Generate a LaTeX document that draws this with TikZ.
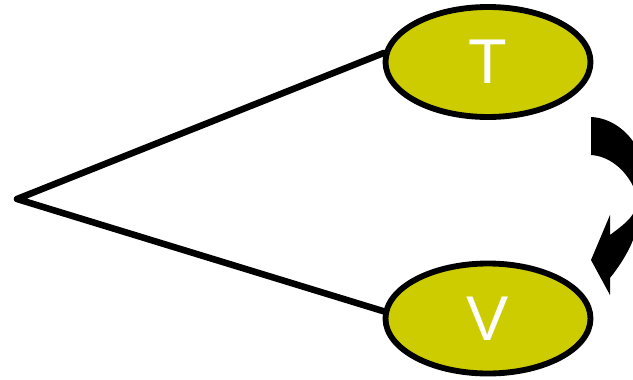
\documentclass[tikz,border=0pt]{standalone}
\usepackage{fontspec}
\setmainfont{Liberation Sans}
\usetikzlibrary{shapes.geometric}
\definecolor{termfill}{RGB}{204,204,0}
\begin{document}
\begin{tikzpicture}[x=0.03cm,y=-0.03cm,
        term/.style={ellipse,draw,fill=termfill,line width=5pt,minimum width=6.15cm,minimum height=3.3cm,inner sep=0pt,text=white,font=\fontsize{54}{60}\selectfont},
        edge/.style={line width=5.6pt,line join=round,line cap=round}]
        \clip(0,0)rectangle(633,379);
        \node[term](T)at(488,62){T};
        \node[term](V)at(488,318.5){V};
        \coordinate(apex)at(17,199);
        \draw[edge](T.175)--(apex)--(V.176);
        % bent arrow running down the right edge
        \fill(591,117) .. controls (612,118) and (628,132) .. (636,146)
            .. controls (648,168) and (650,205) .. (633,240)
            .. controls (627,255) and (618,268) .. (610,278)
            --(610,295)--(591,260)--(610,215)--(610,235)
            .. controls (622,226) and (630,220) .. (634,212)
            .. controls (640,200) and (638,192) .. (633,186)
            .. controls (624,168) and (608,156) .. (591,155)--cycle;
    \end{tikzpicture}
\end{document}
